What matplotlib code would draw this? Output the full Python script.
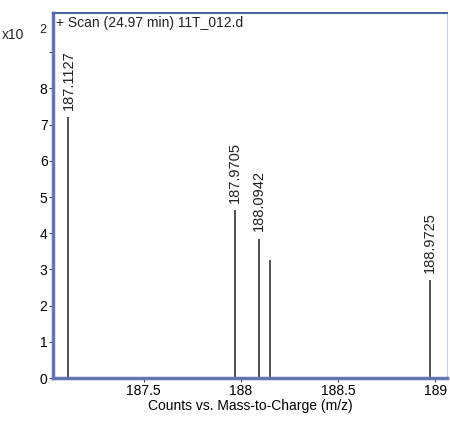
import matplotlib
matplotlib.use('Agg')
import matplotlib.pyplot as plt

plt.rcParams['font.family'] = ['Liberation Sans', 'DejaVu Sans']

# peak data (x10^2 counts)
mz = [187.1127, 187.9705, 188.0942, 188.1500, 188.9725]
counts = [7.2, 4.63, 3.85, 3.27, 2.71]
labels = ['187.1127', '187.9705', '188.0942', '', '188.9725']
xticks = [187.5, 188, 188.5, 189]
xticklabels = ['187.5', '188', '188.5', '189']
yticks = [0, 1, 2, 3, 4, 5, 6, 7, 8, 9]
yticklabels = ['0', '1', '2', '3', '4', '5', '6', '7', '8', '']

fig = plt.figure(figsize=(4.5, 4.21), dpi=100)
ax = fig.add_axes([0.118, 0.102, 0.875, 0.867])

ax.vlines(mz, 0, counts, color='#333333', lw=1.2)
for x, y, t in zip(mz, counts, labels):
    if t:
        ax.text(x, y + 0.2, t, rotation=90, ha='center', va='bottom',
                fontsize=10.5, color='#222222')

ax.set_xlim(187.034, 189.06)
ax.set_ylim(0, 10.08)
ax.set_xticks(xticks)
ax.set_xticklabels(xticklabels, fontsize=10)
ax.set_yticks(yticks)
ax.set_yticklabels(yticklabels, fontsize=10)
ax.tick_params(length=3, width=0.8, pad=1, color='#444444')
ax.set_xlabel('Counts vs. Mass-to-Charge (m/z)', fontsize=10, labelpad=1)

for s in ['left', 'bottom']:
    ax.spines[s].set_color('#6474b4')
    ax.spines[s].set_linewidth(2.5)
ax.spines['top'].set_color('#4a6a9c')
ax.spines['top'].set_linewidth(1.5)
ax.spines['right'].set_color('#c8cedd')
ax.spines['right'].set_linewidth(0.8)

ax.text(0.008, 0.993, '+ Scan (24.97 min) 11T_012.d', transform=ax.transAxes,
        ha='left', va='top', fontsize=10, color='#222222')
fig.text(0.005, 0.918, 'x10', fontsize=10, color='#222222', va='center')
fig.text(0.088, 0.928, '2', fontsize=9, color='#222222', va='center')

fig.savefig('out.png', dpi=100)
